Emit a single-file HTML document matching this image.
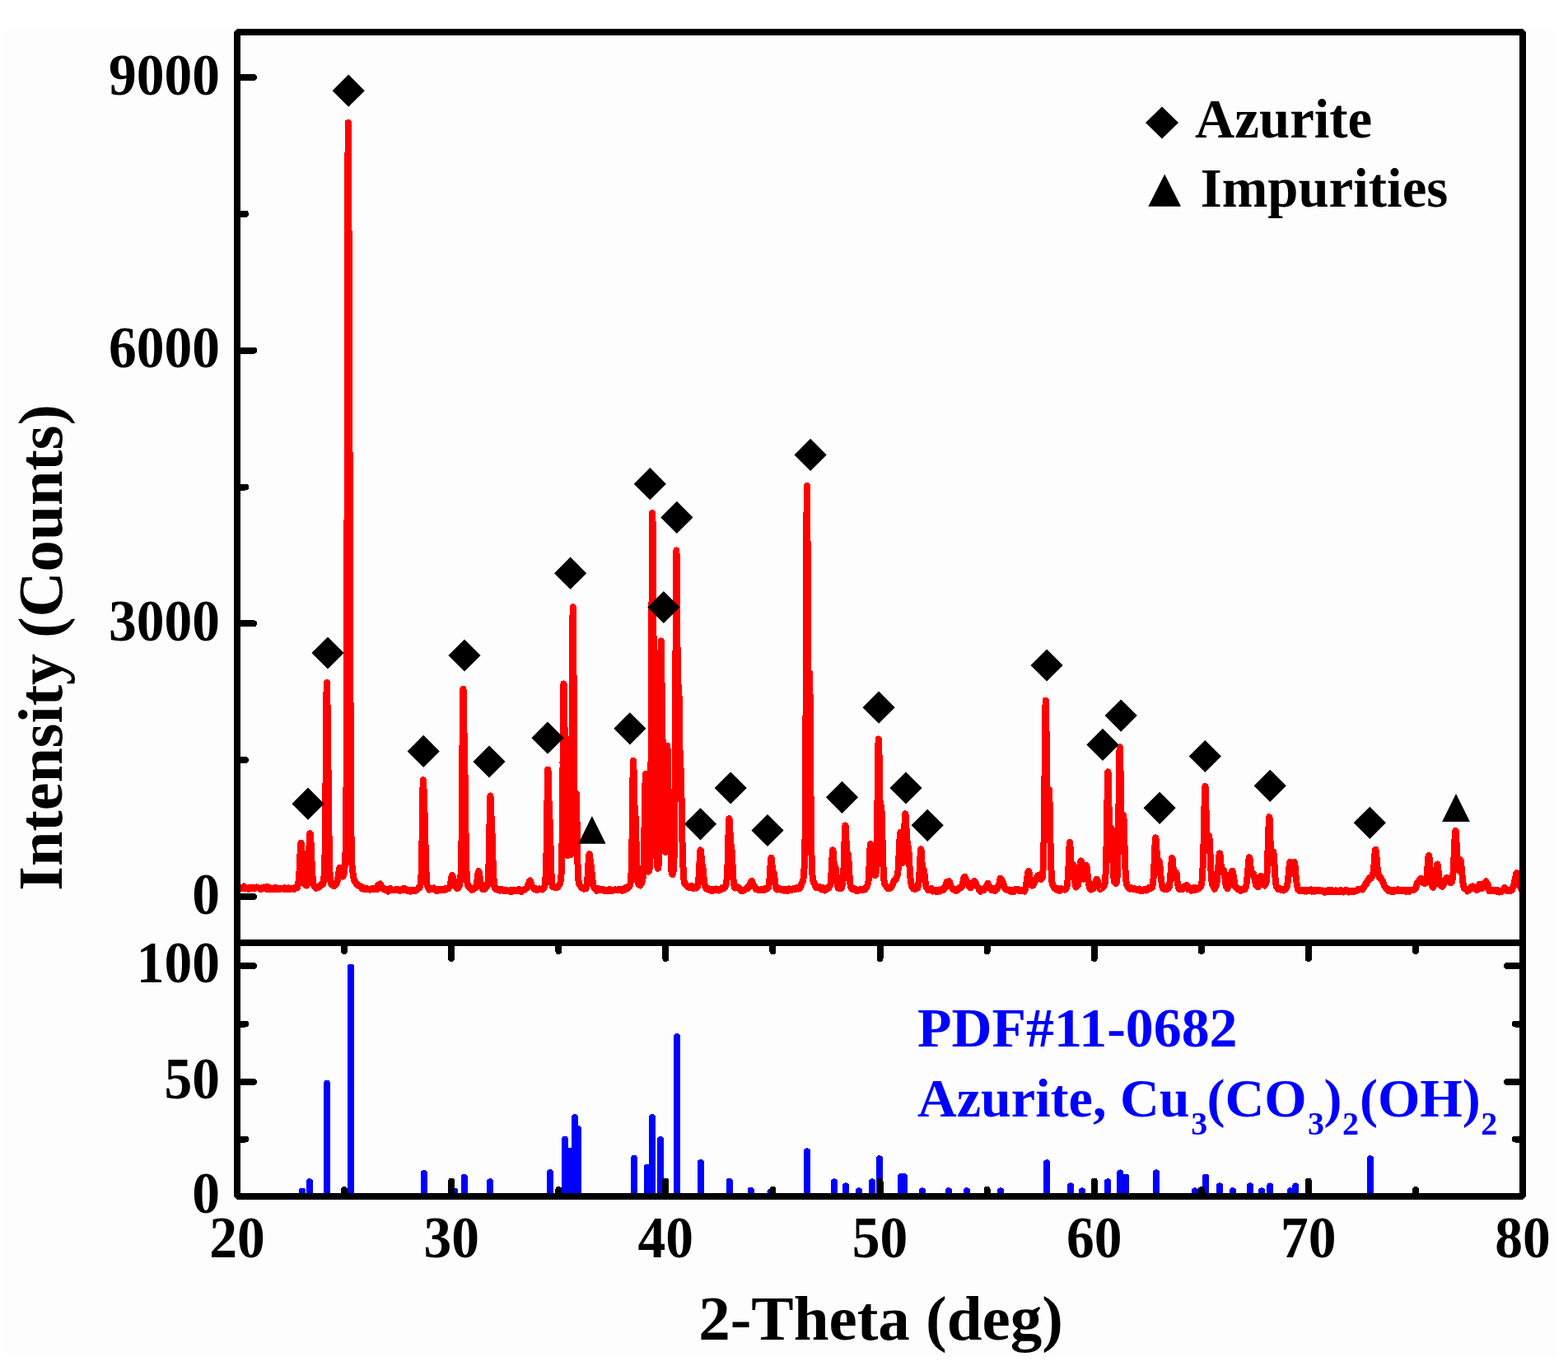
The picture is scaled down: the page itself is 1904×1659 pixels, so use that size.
<!DOCTYPE html>
<html><head><meta charset="utf-8"><title>XRD pattern</title>
<style>
html,body{margin:0;padding:0;background:#fff;}
svg{display:block;}
text{font-family:"Liberation Serif","Times New Roman",serif;font-weight:bold;}
</style></head>
<body>
<svg width="1904" height="1659" viewBox="0 0 1904 1659">
<rect width="1904" height="1659" fill="#fff"/>
<rect x="2" y="35" width="1887" height="1612" fill="#fdfdfd"/>
<path d="M288.0 1078.3 288.5 1078.3 289.0 1077.6 289.6 1077.6 290.1 1078.3 290.6 1079.0 291.1 1079.6 291.6 1079.2 292.2 1079.2 292.7 1078.8 293.2 1077.9 293.7 1078.1 294.2 1078.3 294.8 1079.3 295.3 1078.1 295.8 1077.1 296.3 1076.4 296.9 1077.0 297.4 1078.0 297.9 1078.4 298.4 1078.8 298.9 1078.4 299.4 1078.6 300.0 1078.5 300.5 1078.5 301.0 1079.2 301.5 1079.3 302.1 1080.2 302.6 1079.1 303.1 1078.5 303.6 1077.8 304.1 1078.0 304.6 1078.7 305.2 1079.0 305.7 1078.8 306.2 1078.1 306.7 1077.7 307.2 1078.5 307.8 1078.6 308.3 1078.9 308.8 1078.6 309.3 1078.3 309.9 1078.2 310.4 1078.6 310.9 1078.4 311.4 1078.2 311.9 1077.6 312.5 1078.1 313.0 1078.5 313.5 1078.6 314.0 1078.3 314.5 1078.4 315.1 1078.8 315.6 1079.9 316.1 1080.2 316.6 1080.1 317.1 1079.7 317.7 1078.4 318.2 1078.5 318.7 1078.2 319.2 1078.6 319.7 1077.7 320.3 1077.6 320.8 1077.5 321.3 1078.7 321.8 1078.3 322.3 1077.8 322.9 1077.4 323.4 1079.0 323.9 1079.9 324.4 1079.0 324.9 1077.1 325.5 1077.0 326.0 1077.6 326.5 1078.2 327.0 1078.5 327.6 1079.4 328.1 1080.0 328.6 1079.7 329.1 1079.4 329.6 1080.0 330.1 1080.2 330.7 1080.3 331.2 1079.8 331.7 1078.8 332.2 1079.1 332.8 1079.3 333.3 1080.3 333.8 1078.8 334.3 1078.1 334.8 1078.2 335.4 1078.3 335.9 1078.5 336.4 1078.6 336.9 1078.8 337.4 1079.6 337.9 1079.4 338.5 1080.0 339.0 1079.4 339.5 1079.4 340.0 1079.6 340.6 1079.9 341.1 1079.3 341.6 1079.1 342.1 1079.1 342.6 1079.4 343.2 1079.2 343.7 1079.1 344.2 1079.8 344.7 1080.0 345.2 1078.9 345.8 1078.2 346.3 1078.3 346.8 1078.8 347.3 1079.5 347.8 1079.1 348.4 1079.8 348.9 1078.6 349.4 1078.7 349.9 1078.4 350.4 1079.5 351.0 1080.2 351.5 1080.1 352.0 1079.6 352.5 1079.2 353.0 1079.3 353.6 1079.1 354.1 1079.2 354.6 1079.1 355.1 1079.2 355.6 1079.3 356.2 1079.3 356.7 1080.1 357.2 1079.9 357.7 1079.3 358.2 1078.1 358.8 1077.8 359.3 1078.2 359.8 1078.0 360.3 1077.9 360.9 1077.9 361.4 1076.1 361.9 1074.1 362.4 1070.8 362.9 1067.3 363.4 1060.1 364.0 1049.3 364.2 1044.1 364.4 1038.3 364.5 1037.4 364.7 1032.9 364.9 1028.4 365.0 1027.5 365.2 1025.3 365.4 1023.9 365.5 1023.8 365.7 1024.2 365.9 1025.9 366.1 1026.9 366.2 1028.6 366.6 1034.0 367.1 1043.7 367.6 1053.0 368.1 1061.3 368.6 1067.7 369.2 1070.4 369.7 1072.4 370.2 1074.0 370.7 1075.1 371.2 1075.4 371.8 1075.2 372.3 1075.5 372.8 1074.9 373.3 1070.9 373.9 1065.2 374.4 1056.1 374.9 1044.5 375.2 1036.4 375.4 1030.3 375.4 1029.5 375.7 1022.8 375.9 1017.6 375.9 1017.4 376.2 1013.8 376.4 1012.2 376.5 1012.2 376.7 1012.4 376.9 1014.0 377.0 1014.3 377.2 1017.2 377.5 1022.5 378.0 1032.9 378.5 1045.6 379.1 1056.7 379.6 1065.5 380.1 1070.8 380.6 1073.7 381.1 1075.6 381.7 1076.3 382.2 1077.2 382.7 1077.9 383.2 1078.0 383.7 1078.7 384.3 1077.8 384.8 1078.4 385.3 1077.1 385.8 1077.6 386.3 1077.5 386.9 1077.6 387.4 1077.7 387.9 1076.5 388.4 1075.6 388.9 1075.3 389.5 1075.3 390.0 1075.1 390.5 1073.6 391.0 1074.0 391.6 1074.0 392.1 1074.3 392.6 1071.7 393.1 1069.0 393.6 1063.2 394.1 1053.7 394.7 1031.6 395.2 989.1 395.6 941.1 395.7 926.7 395.9 908.1 396.1 876.2 396.2 861.5 396.4 849.9 396.6 833.4 396.8 829.5 396.9 829.1 397.1 834.9 397.3 842.6 397.4 847.0 397.6 862.2 397.8 874.8 398.3 915.0 398.8 963.5 399.4 1007.0 399.9 1038.3 400.4 1057.3 400.9 1065.5 401.4 1069.9 401.9 1072.1 402.5 1074.5 403.0 1074.8 403.5 1074.4 404.0 1074.7 404.6 1075.2 405.1 1075.8 405.6 1076.2 406.1 1076.0 406.6 1074.9 407.2 1073.9 407.7 1072.9 408.2 1073.8 408.7 1073.1 409.2 1072.2 409.8 1069.6 410.3 1066.8 410.8 1063.3 411.3 1059.6 411.5 1058.2 411.8 1056.5 411.8 1055.9 412.0 1055.1 412.2 1054.2 412.4 1053.9 412.5 1053.6 412.8 1053.8 412.9 1054.1 413.0 1054.5 413.2 1055.6 413.4 1056.4 413.5 1057.0 413.9 1059.3 414.4 1062.2 415.0 1063.3 415.5 1064.5 416.0 1063.6 416.5 1064.4 417.0 1063.0 417.6 1061.6 418.1 1057.6 418.6 1053.3 419.1 1045.6 419.6 1032.6 420.2 1003.1 420.7 929.6 421.2 774.7 421.6 595.4 421.7 526.8 421.9 462.0 422.1 330.5 422.2 261.3 422.4 222.4 422.6 159.8 422.8 149.0 422.9 152.3 423.1 188.6 423.3 232.0 423.4 246.9 423.6 309.3 423.8 359.4 424.3 490.0 424.9 660.8 425.4 827.3 425.9 945.2 426.4 1008.8 426.9 1037.5 427.4 1050.1 428.0 1056.4 428.5 1059.9 429.0 1062.8 429.5 1066.3 430.1 1068.7 430.6 1070.1 431.1 1070.6 431.6 1071.2 432.1 1072.4 432.6 1072.9 433.2 1074.4 433.7 1073.9 434.2 1075.0 434.7 1075.0 435.3 1075.5 435.8 1076.0 436.3 1076.4 436.8 1076.5 437.3 1076.0 437.9 1076.5 438.4 1077.5 438.9 1078.4 439.4 1078.7 439.9 1079.4 440.5 1079.3 441.0 1079.7 441.5 1079.8 442.0 1079.9 442.5 1078.4 443.1 1078.6 443.6 1079.1 444.1 1080.0 444.6 1079.4 445.1 1079.8 445.7 1079.1 446.2 1079.6 446.7 1079.9 447.2 1080.3 447.7 1080.5 448.3 1080.3 448.8 1080.7 449.3 1080.6 449.8 1080.2 450.4 1079.9 450.9 1079.6 451.4 1079.3 451.9 1080.1 452.4 1080.2 452.9 1080.0 453.5 1079.1 454.0 1078.9 454.5 1079.4 455.0 1079.8 455.6 1079.5 456.1 1078.5 456.6 1079.4 457.1 1080.0 457.6 1080.2 458.1 1077.0 458.7 1076.0 459.2 1075.0 459.7 1076.1 460.0 1075.6 460.2 1075.3 460.2 1075.3 460.5 1074.9 460.8 1074.6 461.0 1074.3 461.2 1074.1 461.3 1074.1 461.5 1073.8 461.8 1073.5 461.8 1073.5 462.0 1074.0 462.3 1074.7 462.8 1075.6 463.4 1077.1 463.9 1078.1 464.4 1079.5 464.9 1079.7 465.4 1079.2 466.0 1078.8 466.5 1079.8 467.0 1080.1 467.5 1079.6 468.0 1080.5 468.6 1081.3 469.1 1081.2 469.6 1079.6 470.1 1080.0 470.6 1081.0 471.2 1082.5 471.7 1082.1 472.2 1081.3 472.7 1080.6 473.2 1079.2 473.8 1079.3 474.3 1079.2 474.8 1080.4 475.3 1080.5 475.8 1080.4 476.4 1080.4 476.9 1081.0 477.4 1081.3 477.9 1081.2 478.4 1080.9 479.0 1081.0 479.5 1080.9 480.0 1080.7 480.5 1080.1 481.1 1080.0 481.6 1080.4 482.1 1080.8 482.6 1080.9 483.1 1081.1 483.6 1080.9 484.2 1080.3 484.7 1080.5 485.2 1081.0 485.7 1081.8 486.2 1081.5 486.8 1081.3 487.3 1080.6 487.8 1079.8 488.3 1079.6 488.9 1079.7 489.4 1080.9 489.9 1080.4 490.4 1079.6 490.9 1078.7 491.4 1080.0 492.0 1081.0 492.5 1080.9 493.0 1079.8 493.5 1080.2 494.1 1081.1 494.6 1081.5 495.1 1081.9 495.6 1082.0 496.1 1081.9 496.7 1081.5 497.2 1082.0 497.7 1082.4 498.2 1082.6 498.7 1081.3 499.3 1080.7 499.8 1080.6 500.3 1080.9 500.8 1081.5 501.3 1081.4 501.9 1081.9 502.4 1081.2 502.9 1082.0 503.4 1082.1 503.9 1082.0 504.5 1080.8 505.0 1081.3 505.5 1081.1 506.0 1081.3 506.5 1080.4 507.1 1080.3 507.6 1079.1 508.1 1078.4 508.6 1078.1 509.1 1078.5 509.7 1078.0 510.2 1076.5 510.7 1073.9 511.2 1068.2 511.8 1056.6 512.3 1034.8 512.8 1002.8 512.8 1002.2 513.0 985.0 513.3 968.9 513.3 968.3 513.5 956.0 513.8 948.5 513.8 948.0 514.0 947.2 514.3 951.1 514.4 952.3 514.5 957.9 514.8 965.8 514.9 968.0 515.4 983.3 515.9 1000.8 516.4 1021.9 517.0 1043.0 517.5 1058.9 518.0 1069.4 518.5 1074.4 519.0 1076.3 519.5 1076.6 520.1 1078.2 520.6 1079.1 521.1 1080.7 521.6 1079.7 522.1 1079.6 522.7 1078.5 523.2 1079.4 523.7 1080.1 524.2 1080.2 524.8 1079.9 525.3 1079.8 525.8 1080.0 526.3 1079.2 526.8 1078.5 527.4 1079.0 527.9 1079.3 528.4 1079.8 528.9 1080.3 529.4 1081.2 530.0 1081.6 530.5 1082.2 531.0 1082.4 531.5 1081.5 532.0 1080.6 532.6 1079.6 533.1 1079.7 533.6 1079.9 534.1 1080.4 534.6 1081.1 535.2 1080.4 535.7 1079.8 536.2 1079.6 536.7 1080.2 537.2 1080.6 537.8 1080.6 538.3 1080.3 538.8 1080.7 539.3 1080.9 539.8 1081.2 540.4 1080.5 540.9 1080.2 541.4 1078.9 541.9 1078.7 542.5 1078.8 543.0 1079.2 543.5 1079.6 544.0 1079.5 544.5 1079.2 545.0 1078.4 545.6 1077.3 546.1 1076.8 546.6 1075.3 547.1 1072.8 547.6 1069.2 548.2 1065.8 548.2 1065.7 548.5 1064.4 548.7 1063.4 548.7 1063.4 549.0 1063.1 549.2 1063.2 549.2 1063.2 549.5 1063.5 549.7 1064.2 549.7 1064.3 550.0 1065.0 550.2 1066.1 550.2 1066.3 550.8 1068.2 551.3 1070.8 551.8 1073.2 552.3 1075.0 552.9 1076.3 553.4 1077.1 553.9 1077.9 554.4 1078.3 554.9 1078.2 555.5 1079.0 556.0 1078.2 556.5 1078.4 557.0 1076.6 557.5 1076.3 558.1 1073.4 558.6 1071.0 559.1 1067.2 559.6 1061.2 560.1 1045.4 560.7 1010.8 561.2 954.6 561.3 939.1 561.5 905.9 561.7 886.6 561.8 874.6 562.0 850.1 562.2 839.7 562.3 836.8 562.5 836.7 562.7 843.9 562.8 847.1 563.0 862.8 563.3 876.8 563.3 879.3 563.8 904.6 564.3 926.8 564.8 960.7 565.3 1000.0 565.9 1033.8 566.4 1055.6 566.9 1067.1 567.4 1072.2 567.9 1074.3 568.5 1075.9 569.0 1076.5 569.5 1076.9 570.0 1077.7 570.5 1078.9 571.1 1078.8 571.6 1079.6 572.1 1080.3 572.6 1080.8 573.1 1080.3 573.7 1079.4 574.2 1080.1 574.7 1079.7 575.2 1080.2 575.8 1079.2 576.3 1079.0 576.8 1078.6 577.3 1078.7 577.8 1077.8 578.4 1075.2 578.9 1072.3 579.4 1068.8 579.9 1065.0 580.3 1062.2 580.4 1061.3 580.5 1060.6 580.8 1059.3 581.0 1058.7 581.0 1058.4 581.3 1058.0 581.5 1058.2 581.5 1058.4 581.8 1059.3 582.0 1060.4 582.0 1060.7 582.3 1062.3 582.5 1063.8 583.0 1068.3 583.5 1071.2 584.1 1074.1 584.6 1075.2 585.1 1077.8 585.6 1079.3 586.1 1080.0 586.7 1078.8 587.2 1077.5 587.7 1078.6 588.2 1079.0 588.8 1079.6 589.3 1078.7 589.8 1078.6 590.3 1077.8 590.8 1077.4 591.4 1075.9 591.9 1075.0 592.4 1072.3 592.9 1066.8 593.4 1053.7 594.0 1031.0 594.3 1011.9 594.5 1001.2 594.5 997.1 594.8 983.3 595.0 974.4 595.0 972.6 595.3 966.9 595.5 966.5 595.5 966.7 595.8 971.3 596.0 978.0 596.0 978.3 596.3 985.9 596.6 993.0 597.1 1003.2 597.6 1014.2 598.1 1030.6 598.6 1048.1 599.2 1062.1 599.7 1071.0 600.2 1075.8 600.7 1078.7 601.2 1079.2 601.8 1079.6 602.3 1080.4 602.8 1080.2 603.3 1080.2 603.9 1079.2 604.4 1080.4 604.9 1081.0 605.4 1080.9 605.9 1081.1 606.5 1081.0 607.0 1081.6 607.5 1080.6 608.0 1080.2 608.5 1079.9 609.0 1080.3 609.6 1080.3 610.1 1080.7 610.6 1080.9 611.1 1081.7 611.6 1081.8 612.2 1082.2 612.7 1082.2 613.2 1081.8 613.7 1081.1 614.2 1080.8 614.8 1081.1 615.3 1081.5 615.8 1081.5 616.3 1081.7 616.9 1081.5 617.4 1081.9 617.9 1082.4 618.4 1082.6 618.9 1082.3 619.5 1081.4 620.0 1082.4 620.5 1082.5 621.0 1083.0 621.5 1081.9 622.1 1081.8 622.6 1081.4 623.1 1080.9 623.6 1081.6 624.1 1082.0 624.7 1081.9 625.2 1081.6 625.7 1081.1 626.2 1082.1 626.7 1082.0 627.3 1081.3 627.8 1081.0 628.3 1081.5 628.8 1081.9 629.3 1081.6 629.9 1080.2 630.4 1079.9 630.9 1080.5 631.4 1081.9 631.9 1082.7 632.5 1082.6 633.0 1082.8 633.5 1082.3 634.0 1081.9 634.5 1081.1 635.1 1081.5 635.6 1081.3 636.1 1080.4 636.6 1080.2 637.1 1080.6 637.7 1080.4 638.2 1079.9 638.7 1079.1 639.2 1079.3 639.8 1078.5 640.3 1077.6 640.8 1075.9 641.3 1074.8 641.8 1073.8 642.4 1072.2 642.5 1071.8 642.8 1071.2 642.9 1070.9 643.0 1070.4 643.2 1069.7 643.4 1069.3 643.5 1069.3 643.8 1069.5 643.9 1069.7 644.0 1069.8 644.2 1070.3 644.4 1070.6 644.5 1071.0 645.0 1073.1 645.5 1074.6 646.0 1075.8 646.5 1076.6 647.0 1077.3 647.5 1078.3 648.1 1078.5 648.6 1079.8 649.1 1079.6 649.6 1079.2 650.2 1079.1 650.7 1079.8 651.2 1080.5 651.7 1080.9 652.2 1080.6 652.8 1080.6 653.3 1080.4 653.8 1079.7 654.3 1079.6 654.8 1079.3 655.4 1080.4 655.9 1080.5 656.4 1080.5 656.9 1079.7 657.4 1079.7 658.0 1080.1 658.5 1079.8 659.0 1080.4 659.5 1079.0 660.0 1078.7 660.6 1077.0 661.1 1076.8 661.6 1074.7 662.1 1070.8 662.6 1064.5 663.2 1051.6 663.7 1027.5 664.2 992.3 664.2 991.5 664.5 973.1 664.7 955.4 664.7 953.5 665.0 941.9 665.2 935.0 665.2 934.6 665.5 935.8 665.7 942.6 665.8 945.3 666.0 952.8 666.2 963.4 666.3 967.0 666.8 982.1 667.3 990.0 667.9 1003.4 668.4 1022.1 668.9 1043.8 669.4 1058.8 669.9 1069.5 670.5 1074.5 671.0 1076.6 671.5 1077.1 672.0 1076.5 672.5 1076.5 673.0 1076.7 673.6 1077.4 674.1 1077.9 674.6 1078.2 675.1 1077.8 675.6 1078.1 676.2 1078.1 676.7 1077.9 677.2 1077.5 677.7 1076.8 678.2 1075.8 678.8 1075.4 679.3 1074.8 679.8 1073.8 680.3 1071.9 680.9 1069.4 681.4 1064.4 681.9 1054.6 682.4 1032.8 682.9 992.8 683.5 932.1 683.5 926.9 683.8 894.4 684.0 866.7 684.0 864.5 684.2 841.7 684.5 830.4 684.8 831.9 685.0 843.9 685.0 845.1 685.2 861.5 685.5 879.9 685.5 882.6 686.1 909.5 686.6 921.7 687.1 939.8 687.6 972.9 688.1 1007.2 688.7 1031.6 689.2 1039.1 689.7 1028.1 690.0 1013.2 690.2 999.5 690.2 997.5 690.5 981.6 690.7 969.4 690.8 969.0 691.0 963.9 691.2 968.6 691.3 969.0 691.5 981.0 691.8 996.8 691.8 998.7 692.0 1012.4 692.3 1027.3 692.8 1038.0 693.3 1026.5 693.9 986.6 694.4 916.1 694.7 862.3 694.9 824.4 695.0 817.3 695.2 776.8 695.4 749.6 695.5 747.9 695.7 737.3 696.0 747.8 696.2 776.5 696.5 816.6 696.5 820.0 696.7 861.1 697.0 911.0 697.5 979.7 698.0 1012.6 698.5 1011.0 698.8 1001.5 699.0 989.0 699.1 987.9 699.3 976.3 699.5 966.9 699.6 965.9 699.8 964.1 700.0 969.5 700.1 971.9 700.3 981.7 700.5 997.7 700.6 1003.2 700.8 1014.5 701.1 1035.4 701.7 1056.8 702.2 1067.4 702.7 1071.0 703.2 1073.6 703.8 1074.0 704.3 1075.3 704.8 1075.3 705.3 1076.4 705.8 1077.5 706.4 1078.2 706.9 1078.4 707.4 1078.5 707.9 1079.3 708.4 1079.6 709.0 1079.6 709.5 1079.4 710.0 1079.5 710.5 1078.6 711.0 1078.9 711.6 1079.3 712.1 1077.9 712.6 1074.5 713.1 1069.9 713.6 1064.3 714.2 1055.6 714.4 1051.0 714.6 1046.4 714.7 1045.9 714.9 1042.3 715.1 1039.1 715.2 1038.7 715.4 1037.4 715.6 1037.1 715.7 1037.2 715.9 1038.1 716.1 1040.0 716.2 1040.8 716.4 1042.2 716.8 1045.4 717.3 1049.0 717.8 1052.1 718.3 1056.4 718.8 1062.6 719.4 1067.8 719.9 1073.2 720.4 1075.9 720.9 1077.4 721.4 1078.0 722.0 1078.8 722.5 1079.2 723.0 1079.6 723.5 1080.2 724.0 1081.1 724.6 1082.0 725.1 1081.4 725.6 1080.8 726.1 1078.9 726.6 1080.2 727.2 1080.1 727.7 1081.3 728.2 1080.7 728.7 1080.4 729.2 1080.7 729.8 1080.4 730.3 1080.3 730.8 1080.2 731.3 1080.8 731.9 1080.8 732.4 1080.9 732.9 1080.5 733.4 1081.6 733.9 1081.4 734.5 1082.0 735.0 1081.6 735.5 1081.8 736.0 1081.0 736.5 1081.5 737.0 1080.7 737.6 1080.8 738.1 1081.3 738.6 1081.9 739.1 1081.9 739.7 1080.5 740.2 1080.0 740.7 1080.1 741.2 1081.1 741.7 1081.7 742.3 1081.8 742.8 1081.3 743.3 1081.7 743.8 1081.3 744.3 1081.0 744.9 1080.8 745.4 1081.0 745.9 1081.2 746.4 1080.5 746.9 1080.3 747.5 1080.7 748.0 1081.1 748.5 1080.6 749.0 1080.5 749.5 1080.4 750.1 1080.5 750.6 1080.6 751.1 1080.4 751.6 1080.6 752.1 1080.6 752.7 1081.3 753.2 1081.1 753.7 1080.9 754.2 1079.9 754.7 1081.2 755.3 1080.7 755.8 1081.7 756.3 1080.2 756.8 1080.8 757.4 1081.1 757.9 1080.2 758.4 1079.5 758.9 1078.6 759.4 1079.6 760.0 1079.3 760.5 1079.9 761.0 1079.8 761.5 1079.0 762.0 1078.1 762.5 1077.0 763.1 1077.8 763.6 1076.6 764.1 1076.8 764.6 1076.0 765.1 1075.0 765.7 1072.0 766.2 1066.1 766.7 1056.5 767.2 1036.7 767.8 1003.3 768.0 983.3 768.2 962.9 768.3 961.3 768.5 944.2 768.8 930.3 768.8 928.7 769.0 923.8 769.2 925.9 769.3 927.6 769.5 934.9 769.8 947.5 769.8 951.8 770.0 960.6 770.4 975.7 770.9 985.5 771.4 988.6 771.9 999.2 772.4 1018.3 773.0 1039.9 773.5 1055.9 774.0 1067.7 774.5 1071.8 775.0 1073.5 775.6 1073.3 776.1 1074.7 776.6 1074.8 777.1 1075.4 777.6 1074.5 778.2 1074.5 778.7 1073.2 779.2 1072.9 779.7 1071.2 780.2 1068.5 780.8 1064.7 781.3 1056.8 781.8 1042.2 782.3 1018.6 782.8 988.6 783.0 978.8 783.2 964.2 783.4 958.3 783.5 951.7 783.8 943.2 783.9 940.8 784.0 940.0 784.2 942.7 784.4 946.9 784.5 950.7 784.8 962.6 784.9 972.1 785.0 976.8 785.5 1003.0 786.0 1027.7 786.5 1044.8 787.0 1054.2 787.5 1058.7 788.0 1057.9 788.6 1054.7 789.1 1046.8 789.6 1028.3 790.1 987.9 790.6 912.8 791.2 801.6 791.2 794.5 791.5 735.3 791.7 683.3 791.7 681.3 792.0 641.4 792.2 623.3 792.2 623.1 792.5 630.0 792.7 657.2 792.7 661.4 793.0 695.6 793.2 735.5 793.2 743.0 793.8 798.5 794.3 812.6 794.8 817.7 795.3 855.7 795.9 918.4 796.4 977.6 796.9 1018.7 797.4 1040.6 797.9 1050.2 798.5 1053.9 799.0 1054.8 799.5 1052.1 800.0 1043.3 800.5 1021.8 801.1 977.2 801.6 908.2 801.7 889.8 802.0 851.2 802.1 829.4 802.2 816.1 802.5 790.1 802.6 780.5 802.7 778.5 803.0 783.2 803.1 796.0 803.2 801.3 803.5 826.6 803.7 848.9 803.7 853.0 804.2 890.6 804.7 902.8 805.2 902.7 805.7 920.1 806.3 958.6 806.8 998.0 807.3 1025.0 807.8 1034.9 808.3 1027.0 808.9 999.5 809.3 965.7 809.4 959.0 809.5 944.6 809.8 925.4 809.9 919.0 810.0 911.5 810.3 905.5 810.4 905.9 810.5 908.6 810.8 919.2 810.9 927.2 811.0 933.9 811.3 949.1 811.5 957.9 812.0 975.5 812.5 977.4 813.0 979.9 813.5 994.9 814.1 1016.8 814.6 1038.3 815.1 1052.0 815.6 1060.0 816.1 1061.9 816.7 1062.0 817.2 1060.4 817.7 1057.6 818.2 1050.5 818.8 1034.8 819.3 1001.5 819.8 938.1 820.3 841.4 820.4 822.3 820.6 768.8 820.8 732.9 820.9 720.2 821.1 684.3 821.4 669.7 821.4 668.4 821.6 675.0 821.9 696.5 821.9 700.3 822.1 735.9 822.4 771.4 822.4 772.8 822.9 827.7 823.4 841.4 824.0 833.2 824.5 842.9 825.0 877.5 825.5 910.5 825.8 921.8 826.0 927.0 826.0 927.4 826.3 930.5 826.5 933.4 826.8 937.9 827.0 945.5 827.1 946.2 827.3 956.1 827.5 969.0 827.6 971.2 827.8 983.2 828.1 1001.0 828.6 1027.2 829.1 1046.0 829.7 1057.0 830.2 1065.3 830.7 1070.7 831.2 1073.0 831.8 1072.9 832.3 1073.2 832.8 1074.0 833.3 1075.6 833.8 1076.0 834.4 1076.3 834.9 1076.6 835.4 1076.7 835.9 1077.6 836.4 1077.2 837.0 1077.6 837.5 1077.8 838.0 1077.6 838.5 1077.1 839.0 1076.0 839.6 1075.8 840.1 1076.4 840.6 1077.5 841.1 1078.2 841.6 1078.8 842.2 1078.9 842.7 1078.5 843.2 1077.9 843.7 1076.8 844.2 1077.0 844.8 1077.5 845.3 1078.5 845.8 1078.3 846.3 1077.5 846.9 1076.9 847.4 1075.3 847.9 1072.5 848.4 1066.7 848.9 1058.3 849.5 1047.9 849.5 1046.9 849.8 1041.7 850.0 1037.8 850.0 1037.3 850.2 1034.0 850.5 1032.4 850.5 1032.4 850.8 1032.5 851.0 1034.0 851.0 1034.0 851.2 1036.4 851.5 1039.3 851.5 1039.7 852.0 1045.5 852.6 1049.6 853.1 1052.0 853.6 1055.0 854.1 1060.0 854.6 1066.3 855.2 1071.8 855.7 1074.4 856.2 1076.0 856.7 1076.9 857.2 1078.9 857.8 1079.6 858.3 1079.3 858.8 1078.7 859.3 1078.4 859.9 1078.6 860.4 1079.5 860.9 1079.6 861.4 1080.1 861.9 1080.5 862.5 1081.4 863.0 1081.6 863.5 1080.4 864.0 1080.0 864.5 1080.7 865.1 1081.3 865.6 1081.7 866.1 1081.0 866.6 1080.9 867.1 1080.3 867.7 1080.4 868.2 1080.8 868.7 1080.2 869.2 1080.0 869.7 1079.5 870.3 1079.9 870.8 1079.8 871.3 1080.0 871.8 1081.2 872.3 1081.6 872.9 1081.4 873.4 1079.7 873.9 1080.3 874.4 1080.1 874.9 1080.7 875.5 1079.3 876.0 1079.1 876.5 1078.5 877.0 1079.0 877.5 1079.1 878.1 1079.4 878.6 1079.3 879.1 1078.5 879.6 1078.8 880.1 1078.0 880.7 1077.0 881.2 1075.4 881.7 1073.9 882.2 1071.4 882.8 1065.9 883.3 1056.6 883.8 1041.8 884.3 1023.1 884.4 1019.7 884.6 1010.7 884.8 1004.9 884.9 1002.9 885.1 997.1 885.4 994.6 885.4 994.2 885.6 994.7 885.9 997.4 885.9 997.9 886.1 1002.8 886.4 1008.2 886.4 1008.4 886.9 1018.7 887.4 1024.8 888.0 1027.8 888.5 1032.0 889.0 1039.2 889.5 1049.5 890.0 1059.0 890.5 1067.9 891.1 1072.5 891.6 1075.7 892.1 1077.9 892.6 1078.6 893.2 1078.5 893.7 1077.2 894.2 1076.8 894.7 1076.7 895.2 1077.7 895.8 1078.6 896.3 1078.8 896.8 1078.0 897.3 1078.7 897.8 1079.2 898.4 1079.8 898.9 1079.7 899.4 1080.8 899.9 1081.9 900.4 1082.3 901.0 1081.7 901.5 1080.9 902.0 1081.3 902.5 1081.9 903.0 1081.7 903.6 1081.0 904.1 1080.5 904.6 1080.6 905.1 1080.1 905.6 1079.3 906.2 1078.9 906.7 1078.3 907.2 1079.2 907.7 1079.4 908.2 1079.0 908.8 1078.3 909.3 1077.4 909.8 1075.8 910.3 1074.6 910.9 1073.0 911.4 1073.4 911.5 1072.7 911.8 1071.5 911.9 1070.9 912.0 1070.7 912.2 1070.4 912.4 1070.2 912.5 1070.1 912.8 1069.8 912.9 1069.7 913.0 1069.9 913.2 1070.7 913.5 1071.3 913.5 1071.4 914.0 1072.5 914.5 1074.4 915.0 1075.1 915.5 1075.8 916.0 1075.8 916.6 1077.1 917.1 1078.0 917.6 1079.3 918.1 1079.9 918.6 1080.4 919.2 1080.1 919.7 1079.8 920.2 1080.2 920.7 1080.9 921.2 1081.2 921.8 1080.6 922.3 1081.0 922.8 1080.7 923.3 1081.2 923.9 1081.0 924.4 1081.1 924.9 1081.2 925.4 1080.1 925.9 1080.7 926.5 1080.4 927.0 1080.1 927.5 1079.9 928.0 1079.4 928.5 1080.7 929.1 1080.0 929.6 1080.2 930.1 1079.6 930.6 1079.7 931.1 1079.7 931.7 1079.1 932.2 1079.1 932.7 1078.4 933.2 1077.4 933.7 1073.5 934.3 1069.7 934.8 1063.0 935.3 1054.8 935.4 1053.1 935.6 1048.9 935.8 1046.4 935.9 1045.4 936.1 1042.9 936.3 1041.9 936.4 1041.8 936.6 1042.1 936.9 1043.4 936.9 1043.7 937.1 1046.1 937.4 1048.6 937.4 1048.8 937.9 1054.0 938.4 1056.7 939.0 1058.9 939.5 1059.4 940.0 1062.7 940.5 1065.9 941.0 1070.1 941.5 1074.0 942.1 1077.1 942.6 1079.8 943.1 1080.5 943.6 1080.3 944.1 1079.0 944.7 1078.5 945.2 1078.6 945.7 1079.1 946.2 1079.7 946.8 1080.3 947.3 1080.6 947.8 1080.4 948.3 1080.2 948.8 1080.5 949.4 1080.8 949.9 1081.3 950.4 1080.9 950.9 1079.9 951.4 1080.1 952.0 1080.4 952.5 1081.6 953.0 1080.2 953.5 1080.0 954.0 1079.5 954.6 1079.6 955.1 1079.5 955.6 1079.8 956.1 1081.0 956.6 1081.9 957.2 1081.1 957.7 1080.0 958.2 1079.4 958.7 1080.3 959.2 1081.0 959.8 1080.1 960.3 1080.0 960.8 1080.2 961.3 1081.0 961.8 1080.4 962.4 1080.1 962.9 1080.1 963.4 1080.0 963.9 1079.0 964.4 1078.7 965.0 1079.0 965.5 1079.8 966.0 1079.9 966.5 1079.3 967.0 1079.1 967.6 1078.4 968.1 1078.7 968.6 1079.3 969.1 1079.1 969.6 1079.5 970.2 1079.2 970.7 1079.3 971.2 1078.1 971.7 1077.7 972.2 1076.7 972.8 1075.6 973.3 1073.4 973.8 1072.5 974.3 1071.8 974.9 1070.7 975.4 1068.2 975.9 1063.9 976.4 1058.0 976.9 1045.7 977.5 1020.9 978.0 967.1 978.5 872.8 978.9 772.2 979.0 743.6 979.1 707.6 979.4 649.3 979.5 624.6 979.6 607.0 979.9 590.0 980.0 593.7 980.1 601.8 980.4 638.0 980.6 671.4 980.6 688.4 980.9 742.0 981.1 779.6 981.6 847.8 982.1 855.4 982.6 828.2 983.2 817.4 983.7 858.3 984.2 926.7 984.7 989.9 985.3 1030.2 985.8 1050.9 986.3 1060.9 986.8 1065.3 987.3 1069.5 987.9 1070.7 988.4 1072.6 988.9 1072.9 989.4 1074.1 989.9 1075.7 990.5 1077.1 991.0 1078.2 991.5 1078.1 992.0 1077.4 992.5 1077.2 993.1 1077.0 993.6 1077.5 994.1 1078.2 994.6 1078.3 995.1 1078.5 995.7 1077.9 996.2 1077.5 996.7 1078.2 997.2 1079.3 997.7 1080.5 998.3 1079.8 998.8 1078.0 999.3 1078.0 999.8 1079.1 1000.4 1080.5 1000.9 1080.9 1001.4 1081.0 1001.9 1081.4 1002.4 1080.7 1003.0 1080.5 1003.5 1080.3 1004.0 1079.7 1004.5 1078.9 1005.0 1077.8 1005.5 1078.3 1006.1 1078.5 1006.6 1078.3 1007.1 1076.8 1007.6 1076.2 1008.1 1075.0 1008.7 1072.8 1009.2 1065.6 1009.7 1056.7 1010.2 1046.5 1010.2 1045.8 1010.5 1041.5 1010.7 1037.1 1010.8 1036.4 1011.0 1033.8 1011.2 1032.3 1011.3 1032.3 1011.5 1032.9 1011.7 1035.1 1011.8 1036.2 1012.0 1038.3 1012.2 1041.9 1012.3 1043.4 1012.8 1050.2 1013.4 1053.6 1013.9 1054.0 1014.4 1053.0 1014.9 1055.4 1015.4 1060.4 1016.0 1067.0 1016.5 1071.6 1017.0 1075.8 1017.5 1078.0 1018.0 1078.7 1018.6 1078.6 1019.1 1079.0 1019.6 1079.0 1020.1 1079.0 1020.6 1078.6 1021.2 1079.2 1021.7 1078.8 1022.2 1076.9 1022.7 1074.4 1023.2 1071.7 1023.8 1067.4 1024.3 1059.7 1024.8 1045.4 1025.3 1028.2 1025.4 1025.4 1025.7 1016.9 1025.8 1011.3 1025.9 1009.7 1026.2 1004.6 1026.4 1002.6 1026.4 1002.4 1026.7 1003.3 1026.9 1006.4 1026.9 1006.7 1027.2 1012.0 1027.4 1018.0 1027.9 1029.6 1028.4 1036.1 1029.0 1037.2 1029.5 1036.3 1030.0 1039.1 1030.5 1046.1 1031.0 1055.6 1031.6 1064.1 1032.1 1070.4 1032.6 1074.6 1033.1 1077.3 1033.7 1078.7 1034.2 1079.1 1034.7 1079.2 1035.2 1079.3 1035.7 1080.1 1036.2 1079.3 1036.8 1079.9 1037.3 1079.3 1037.8 1079.6 1038.3 1080.2 1038.8 1080.1 1039.4 1081.3 1039.9 1080.8 1040.4 1082.1 1040.9 1080.8 1041.5 1081.1 1042.0 1081.1 1042.5 1081.5 1043.0 1080.9 1043.5 1081.3 1044.0 1081.5 1044.6 1081.3 1045.1 1079.8 1045.6 1079.9 1046.1 1080.2 1046.7 1080.6 1047.2 1081.1 1047.7 1080.7 1048.2 1080.8 1048.7 1080.6 1049.3 1080.1 1049.8 1080.3 1050.3 1080.3 1050.8 1079.9 1051.3 1078.6 1051.9 1077.0 1052.4 1076.3 1052.9 1076.4 1053.4 1074.8 1053.9 1073.7 1054.5 1070.1 1055.0 1063.1 1055.5 1052.6 1056.0 1040.3 1056.0 1039.8 1056.2 1034.7 1056.5 1029.9 1056.5 1029.3 1056.8 1026.4 1057.0 1024.9 1057.1 1024.9 1057.2 1025.5 1057.5 1027.9 1057.6 1029.0 1057.8 1031.7 1058.0 1035.9 1058.1 1037.6 1058.6 1045.3 1059.1 1048.8 1059.7 1048.5 1060.2 1046.6 1060.7 1047.9 1061.2 1051.7 1061.8 1057.5 1062.3 1061.1 1062.8 1063.4 1063.3 1062.9 1063.8 1057.3 1064.3 1042.6 1064.9 1017.3 1065.4 981.7 1065.8 949.3 1065.9 940.7 1066.0 930.1 1066.3 913.7 1066.4 907.0 1066.5 902.3 1066.8 897.5 1067.0 898.0 1067.0 899.8 1067.3 908.5 1067.5 917.1 1067.5 921.6 1067.8 936.6 1068.0 948.0 1068.5 972.3 1069.0 982.3 1069.5 981.5 1070.1 979.0 1070.6 985.7 1071.1 1002.0 1071.6 1023.0 1072.2 1043.8 1072.7 1058.1 1073.2 1067.2 1073.7 1070.9 1074.2 1073.8 1074.8 1075.1 1075.3 1075.3 1075.8 1075.5 1076.3 1076.9 1076.8 1077.6 1077.4 1078.7 1077.9 1077.4 1078.4 1077.8 1078.9 1077.6 1079.4 1078.9 1080.0 1078.6 1080.5 1078.7 1081.0 1078.3 1081.5 1078.2 1082.0 1077.8 1082.6 1076.8 1083.1 1076.1 1083.6 1075.1 1084.1 1073.3 1084.6 1072.5 1085.2 1070.8 1085.7 1070.1 1086.2 1068.7 1086.5 1068.5 1086.7 1068.4 1086.8 1068.4 1087.0 1068.2 1087.2 1068.1 1087.2 1068.1 1087.5 1068.2 1087.8 1068.3 1087.8 1068.3 1088.0 1067.7 1088.2 1067.0 1088.3 1067.0 1088.5 1066.6 1088.8 1065.9 1089.3 1064.7 1089.8 1062.6 1090.4 1058.9 1090.9 1050.7 1091.4 1041.3 1091.9 1030.0 1092.3 1022.5 1092.5 1019.7 1092.5 1018.0 1092.8 1014.3 1093.0 1012.5 1093.0 1011.9 1093.3 1011.0 1093.5 1011.5 1093.5 1011.8 1093.8 1014.1 1094.0 1016.9 1094.0 1017.5 1094.3 1021.8 1094.5 1026.1 1095.0 1035.5 1095.6 1044.0 1096.1 1048.2 1096.6 1047.2 1097.1 1039.4 1097.7 1027.1 1098.2 1011.6 1098.3 1007.7 1098.5 1000.6 1098.7 997.0 1098.8 994.6 1099.0 990.4 1099.2 988.9 1099.3 988.5 1099.5 989.0 1099.7 990.7 1099.8 991.6 1100.0 995.9 1100.2 1000.0 1100.3 1001.1 1100.8 1011.2 1101.3 1019.6 1101.8 1024.3 1102.3 1025.9 1102.8 1028.5 1103.4 1033.1 1103.9 1041.4 1104.4 1050.4 1104.9 1060.3 1105.5 1066.4 1106.0 1071.0 1106.5 1073.3 1107.0 1075.6 1107.5 1077.4 1108.1 1077.9 1108.6 1078.9 1109.1 1078.1 1109.6 1077.6 1110.1 1077.9 1110.7 1078.9 1111.2 1080.0 1111.7 1079.5 1112.2 1079.5 1112.7 1078.6 1113.3 1078.8 1113.8 1078.0 1114.3 1078.4 1114.8 1076.8 1115.3 1073.7 1115.9 1068.4 1116.4 1061.6 1116.9 1052.0 1117.2 1045.6 1117.4 1041.0 1117.5 1040.4 1117.7 1035.9 1117.9 1032.9 1118.0 1032.8 1118.2 1031.5 1118.5 1032.2 1118.5 1032.3 1118.7 1034.7 1119.0 1038.3 1119.0 1038.8 1119.2 1042.5 1119.5 1047.5 1120.0 1054.0 1120.5 1057.1 1121.1 1056.3 1121.6 1055.7 1122.1 1057.1 1122.6 1062.4 1123.2 1067.9 1123.7 1072.4 1124.2 1075.6 1124.7 1077.4 1125.2 1078.3 1125.8 1079.0 1126.3 1079.2 1126.8 1080.5 1127.3 1081.0 1127.8 1081.3 1128.3 1079.7 1128.9 1079.6 1129.4 1079.7 1129.9 1080.1 1130.4 1079.7 1131.0 1078.9 1131.5 1079.7 1132.0 1080.2 1132.5 1082.5 1133.0 1082.3 1133.5 1082.2 1134.1 1081.7 1134.6 1081.8 1135.1 1082.0 1135.6 1081.2 1136.2 1080.8 1136.7 1081.4 1137.2 1082.1 1137.7 1083.2 1138.2 1082.3 1138.8 1081.9 1139.3 1080.6 1139.8 1081.2 1140.3 1080.6 1140.8 1081.2 1141.4 1081.3 1141.9 1082.5 1142.4 1081.8 1142.9 1081.7 1143.4 1080.6 1144.0 1080.6 1144.5 1079.3 1145.0 1080.0 1145.5 1080.8 1146.0 1080.7 1146.6 1079.2 1147.1 1077.5 1147.6 1078.0 1148.1 1077.7 1148.6 1076.3 1149.2 1073.0 1149.7 1070.9 1150.2 1070.6 1150.3 1070.7 1150.5 1071.1 1150.7 1071.5 1150.8 1071.4 1151.0 1071.3 1151.2 1071.3 1151.3 1071.2 1151.5 1070.9 1151.8 1070.7 1151.8 1070.6 1152.0 1070.4 1152.3 1070.3 1152.3 1070.3 1152.8 1070.6 1153.3 1072.6 1153.8 1073.7 1154.4 1076.3 1154.9 1076.3 1155.4 1077.1 1155.9 1077.6 1156.5 1078.6 1157.0 1080.1 1157.5 1080.3 1158.0 1080.3 1158.5 1080.4 1159.0 1080.9 1159.6 1080.6 1160.1 1081.2 1160.6 1081.1 1161.1 1082.3 1161.7 1080.6 1162.2 1080.0 1162.7 1079.5 1163.2 1080.8 1163.7 1080.3 1164.2 1079.9 1164.8 1078.3 1165.3 1078.6 1165.8 1078.7 1166.3 1078.3 1166.8 1077.4 1167.4 1076.5 1167.9 1076.8 1168.4 1075.8 1168.9 1073.7 1169.5 1070.5 1170.0 1067.9 1170.5 1066.0 1170.8 1065.5 1171.0 1065.2 1171.0 1065.2 1171.3 1065.0 1171.5 1064.9 1171.5 1064.9 1171.8 1065.3 1172.0 1065.9 1172.1 1066.0 1172.3 1066.2 1172.5 1066.7 1172.6 1066.8 1172.8 1067.1 1173.1 1067.6 1173.6 1069.2 1174.1 1071.4 1174.7 1073.8 1175.2 1074.4 1175.7 1074.5 1176.2 1075.1 1176.7 1076.7 1177.3 1077.7 1177.8 1077.8 1178.3 1077.4 1178.8 1077.5 1179.3 1077.8 1179.9 1077.2 1180.4 1076.7 1180.9 1074.8 1181.4 1073.7 1181.9 1071.4 1182.4 1071.1 1182.5 1071.1 1182.7 1070.7 1182.9 1070.3 1183.0 1070.1 1183.2 1070.2 1183.4 1070.4 1183.5 1070.6 1183.7 1070.7 1183.9 1070.9 1184.0 1071.1 1184.2 1071.2 1184.4 1071.6 1184.5 1071.9 1185.1 1073.4 1185.6 1074.7 1186.1 1076.0 1186.6 1076.5 1187.2 1076.8 1187.7 1077.4 1188.2 1078.3 1188.7 1079.3 1189.2 1081.3 1189.8 1082.0 1190.3 1082.6 1190.8 1080.9 1191.3 1080.4 1191.8 1079.9 1192.3 1080.4 1192.9 1080.2 1193.4 1081.0 1193.9 1080.5 1194.4 1081.2 1195.0 1079.1 1195.5 1078.9 1196.0 1078.0 1196.5 1078.5 1197.0 1078.1 1197.5 1077.4 1198.1 1076.7 1198.6 1074.9 1198.8 1074.5 1199.1 1074.1 1199.1 1074.1 1199.3 1073.4 1199.6 1072.8 1199.6 1072.8 1199.8 1073.3 1200.1 1073.9 1200.2 1074.1 1200.3 1074.4 1200.6 1074.9 1200.7 1075.0 1201.2 1076.6 1201.7 1076.7 1202.2 1077.0 1202.8 1078.6 1203.3 1080.4 1203.8 1081.2 1204.3 1081.3 1204.8 1080.1 1205.4 1079.4 1205.9 1078.8 1206.4 1079.2 1206.9 1079.9 1207.4 1080.2 1208.0 1081.9 1208.5 1081.8 1209.0 1081.5 1209.5 1079.9 1210.0 1079.8 1210.6 1079.6 1211.1 1079.6 1211.6 1078.1 1212.1 1076.6 1212.6 1074.3 1213.2 1073.6 1213.7 1071.4 1214.2 1069.3 1214.6 1067.5 1214.7 1066.9 1214.8 1066.9 1215.1 1067.1 1215.2 1067.2 1215.3 1067.3 1215.6 1067.7 1215.8 1068.0 1215.8 1068.2 1216.1 1069.0 1216.3 1069.6 1216.3 1069.5 1216.6 1069.3 1216.8 1069.2 1217.3 1070.3 1217.8 1071.4 1218.4 1073.3 1218.9 1074.4 1219.4 1076.3 1219.9 1078.2 1220.5 1079.5 1221.0 1080.0 1221.5 1080.0 1222.0 1080.3 1222.5 1080.4 1223.0 1081.1 1223.6 1081.1 1224.1 1081.1 1224.6 1080.9 1225.1 1080.6 1225.7 1081.8 1226.2 1082.1 1226.7 1082.6 1227.2 1082.7 1227.7 1083.1 1228.2 1082.2 1228.8 1081.5 1229.3 1081.2 1229.8 1082.8 1230.3 1083.1 1230.9 1083.1 1231.4 1081.6 1231.9 1080.6 1232.4 1080.4 1232.9 1081.2 1233.5 1081.1 1234.0 1080.8 1234.5 1080.3 1235.0 1080.8 1235.5 1081.1 1236.1 1081.2 1236.6 1080.5 1237.1 1080.9 1237.6 1081.8 1238.1 1082.3 1238.7 1082.1 1239.2 1081.5 1239.7 1081.9 1240.2 1081.5 1240.7 1080.9 1241.3 1080.8 1241.8 1080.9 1242.3 1080.8 1242.8 1081.3 1243.3 1081.6 1243.9 1082.5 1244.4 1082.0 1244.9 1080.6 1245.4 1078.3 1246.0 1075.1 1246.5 1071.7 1247.0 1068.5 1247.5 1064.7 1247.9 1062.1 1248.0 1061.2 1248.2 1060.4 1248.4 1059.1 1248.5 1058.5 1248.7 1058.2 1248.9 1057.9 1249.1 1058.1 1249.2 1058.2 1249.4 1059.1 1249.6 1060.1 1249.7 1060.4 1249.9 1062.2 1250.1 1063.9 1250.6 1067.6 1251.2 1070.6 1251.7 1073.5 1252.2 1075.0 1252.7 1075.7 1253.2 1075.6 1253.8 1075.6 1254.3 1075.2 1254.8 1074.9 1255.3 1073.5 1255.8 1072.3 1256.3 1070.9 1256.9 1070.2 1257.4 1068.3 1257.9 1067.1 1258.4 1066.0 1259.0 1065.8 1259.0 1065.6 1259.2 1065.1 1259.5 1064.6 1259.5 1064.6 1259.8 1064.0 1260.0 1063.5 1260.2 1063.3 1260.5 1063.1 1260.5 1063.1 1260.8 1063.5 1261.0 1063.9 1261.0 1064.0 1261.6 1065.6 1262.1 1066.4 1262.6 1066.6 1263.1 1066.8 1263.6 1067.6 1264.2 1067.9 1264.7 1067.4 1265.2 1066.7 1265.7 1065.7 1266.2 1061.6 1266.8 1052.5 1267.3 1035.4 1267.8 1005.9 1268.3 962.8 1268.8 915.0 1268.8 911.0 1269.0 890.8 1269.3 870.3 1269.4 866.2 1269.5 856.0 1269.8 850.5 1269.9 850.8 1270.0 854.6 1270.3 867.3 1270.4 874.2 1270.5 885.9 1270.8 907.6 1270.9 918.3 1271.4 959.8 1272.0 983.7 1272.5 987.8 1273.0 975.4 1273.5 961.5 1274.0 958.9 1274.6 976.1 1275.1 1002.0 1275.6 1028.6 1276.1 1047.8 1276.7 1061.4 1277.2 1069.2 1277.7 1073.2 1278.2 1075.1 1278.7 1075.2 1279.2 1076.7 1279.8 1077.7 1280.3 1078.7 1280.8 1078.1 1281.3 1078.1 1281.8 1078.9 1282.4 1080.2 1282.9 1080.6 1283.4 1079.4 1283.9 1078.7 1284.5 1079.1 1285.0 1079.5 1285.5 1080.4 1286.0 1080.7 1286.5 1081.7 1287.0 1081.8 1287.6 1080.8 1288.1 1079.9 1288.6 1079.3 1289.1 1079.4 1289.7 1079.9 1290.2 1080.2 1290.7 1080.2 1291.2 1080.3 1291.7 1080.1 1292.3 1080.0 1292.8 1080.6 1293.3 1080.5 1293.8 1080.2 1294.3 1078.9 1294.9 1077.8 1295.4 1077.3 1295.9 1075.3 1296.4 1070.9 1296.9 1063.2 1297.5 1052.6 1298.0 1039.8 1298.0 1039.3 1298.2 1033.4 1298.5 1028.3 1298.8 1024.6 1299.0 1023.3 1299.0 1023.2 1299.2 1024.3 1299.5 1027.5 1299.5 1028.2 1299.8 1032.2 1300.0 1037.6 1300.1 1038.9 1300.6 1049.8 1301.1 1056.5 1301.6 1058.0 1302.1 1056.2 1302.7 1051.9 1303.2 1050.1 1303.7 1051.7 1304.2 1057.4 1304.7 1064.3 1305.3 1070.9 1305.8 1075.1 1306.3 1076.5 1306.8 1077.4 1307.3 1076.7 1307.9 1076.4 1308.4 1075.4 1308.9 1075.3 1309.4 1072.7 1310.0 1068.1 1310.5 1063.7 1311.0 1058.3 1311.5 1052.5 1311.6 1051.5 1311.8 1049.0 1312.0 1047.5 1312.1 1047.0 1312.3 1045.8 1312.5 1045.3 1312.6 1045.3 1312.8 1045.6 1313.1 1046.5 1313.1 1046.7 1313.3 1048.5 1313.6 1050.8 1313.6 1050.9 1314.1 1056.1 1314.6 1061.5 1315.2 1065.3 1315.7 1066.1 1316.2 1067.6 1316.7 1065.5 1317.2 1063.0 1317.8 1058.0 1318.0 1055.8 1318.2 1053.9 1318.3 1053.7 1318.5 1052.3 1318.8 1051.3 1318.8 1051.2 1319.0 1051.0 1319.2 1051.5 1319.3 1051.7 1319.5 1052.6 1319.8 1054.2 1319.8 1054.8 1320.0 1056.2 1320.3 1059.3 1320.9 1064.4 1321.4 1068.8 1321.9 1072.6 1322.4 1075.5 1323.0 1077.7 1323.5 1079.3 1324.0 1079.5 1324.5 1080.5 1325.0 1079.6 1325.6 1080.2 1326.1 1078.8 1326.6 1079.1 1327.1 1078.6 1327.6 1079.0 1328.2 1078.1 1328.7 1077.2 1329.2 1075.9 1329.7 1073.6 1330.2 1071.6 1330.8 1069.7 1330.9 1069.3 1331.2 1068.9 1331.3 1068.7 1331.4 1068.4 1331.7 1067.8 1331.8 1067.6 1331.9 1067.6 1332.2 1067.9 1332.3 1068.2 1332.4 1068.4 1332.7 1069.3 1332.8 1070.2 1332.9 1070.4 1333.4 1072.4 1333.9 1074.2 1334.4 1076.2 1334.9 1078.0 1335.4 1079.5 1336.0 1079.9 1336.5 1079.5 1337.0 1079.0 1337.5 1078.9 1338.0 1078.6 1338.6 1078.3 1339.1 1077.6 1339.6 1077.6 1340.1 1076.9 1340.7 1076.2 1341.2 1074.6 1341.7 1072.6 1342.2 1067.9 1342.7 1058.9 1343.2 1042.3 1343.8 1016.5 1344.3 984.4 1344.4 977.4 1344.7 962.3 1344.8 953.6 1344.9 949.4 1345.2 940.7 1345.3 937.7 1345.4 937.4 1345.7 940.0 1345.8 946.2 1345.9 948.2 1346.2 960.1 1346.4 972.3 1346.4 974.1 1346.9 1001.1 1347.4 1020.9 1347.9 1028.7 1348.5 1024.4 1349.0 1014.5 1349.5 1005.7 1350.0 1007.0 1350.5 1017.9 1351.0 1034.6 1351.6 1049.8 1352.1 1061.6 1352.6 1068.1 1353.1 1070.9 1353.7 1071.9 1354.2 1072.0 1354.7 1071.8 1355.2 1072.9 1355.7 1071.3 1356.3 1069.0 1356.8 1060.8 1357.3 1047.6 1357.8 1024.2 1358.3 990.7 1358.8 956.0 1358.9 951.5 1359.0 937.7 1359.3 922.2 1359.4 918.1 1359.5 911.5 1359.8 907.4 1359.9 907.9 1360.0 910.7 1360.3 920.6 1360.4 927.1 1360.5 935.1 1360.8 952.1 1360.9 961.9 1361.5 995.3 1362.0 1016.3 1362.5 1021.1 1363.0 1013.4 1363.5 999.4 1364.1 990.1 1364.6 994.8 1365.1 1010.2 1365.6 1030.3 1366.1 1047.7 1366.7 1060.5 1367.2 1068.8 1367.7 1071.9 1368.2 1074.6 1368.8 1075.4 1369.3 1077.1 1369.8 1076.9 1370.3 1078.1 1370.8 1078.2 1371.3 1079.2 1371.9 1079.2 1372.4 1079.6 1372.9 1079.2 1373.4 1078.2 1374.0 1078.3 1374.5 1078.6 1375.0 1079.7 1375.5 1079.9 1376.0 1079.5 1376.5 1079.4 1377.1 1079.0 1377.6 1079.5 1378.1 1080.1 1378.6 1080.3 1379.2 1080.5 1379.7 1079.9 1380.2 1080.4 1380.7 1080.5 1381.2 1081.2 1381.8 1081.1 1382.3 1080.5 1382.8 1079.8 1383.3 1079.6 1383.8 1080.7 1384.4 1081.5 1384.9 1081.9 1385.4 1082.2 1385.9 1081.7 1386.4 1081.2 1387.0 1081.1 1387.5 1081.1 1388.0 1081.6 1388.5 1080.5 1389.0 1081.0 1389.6 1080.4 1390.1 1080.2 1390.6 1080.4 1391.1 1080.5 1391.6 1081.4 1392.2 1080.4 1392.7 1080.0 1393.2 1080.6 1393.7 1080.7 1394.2 1079.2 1394.8 1078.0 1395.3 1077.7 1395.8 1079.1 1396.3 1079.1 1396.8 1079.0 1397.4 1078.4 1397.9 1078.7 1398.4 1077.9 1398.9 1078.2 1399.5 1075.9 1400.0 1073.1 1400.5 1067.6 1401.0 1060.4 1401.5 1050.0 1402.0 1037.6 1402.3 1031.4 1402.5 1025.9 1402.6 1025.5 1402.8 1021.5 1403.0 1018.5 1403.1 1018.2 1403.3 1017.4 1403.5 1018.0 1403.6 1018.5 1403.8 1020.5 1404.0 1024.5 1404.1 1026.0 1404.3 1029.2 1404.7 1036.3 1405.2 1045.4 1405.7 1051.6 1406.2 1053.7 1406.7 1050.9 1407.2 1047.4 1407.8 1046.1 1408.3 1049.3 1408.8 1055.5 1409.3 1061.7 1409.8 1067.2 1410.4 1071.1 1410.9 1075.2 1411.4 1077.1 1411.9 1078.9 1412.5 1077.8 1413.0 1079.0 1413.5 1078.3 1414.0 1080.0 1414.5 1080.0 1415.1 1079.8 1415.6 1079.6 1416.1 1079.4 1416.6 1080.2 1417.1 1079.7 1417.7 1078.9 1418.2 1077.5 1418.7 1078.7 1419.2 1078.2 1419.7 1077.4 1420.3 1073.0 1420.8 1069.3 1421.3 1063.3 1421.8 1056.6 1422.2 1050.9 1422.3 1048.9 1422.5 1047.4 1422.7 1044.6 1422.9 1043.3 1423.0 1042.7 1423.2 1041.9 1423.4 1042.2 1423.5 1042.4 1423.7 1044.0 1423.9 1045.8 1424.0 1046.3 1424.2 1049.3 1424.4 1052.0 1424.9 1057.8 1425.5 1061.9 1426.0 1063.6 1426.5 1063.1 1427.0 1062.5 1427.5 1059.4 1428.1 1059.5 1428.6 1061.0 1429.1 1066.2 1429.6 1070.6 1430.2 1074.5 1430.7 1077.1 1431.2 1078.3 1431.7 1079.2 1432.2 1079.9 1432.8 1079.5 1433.3 1079.3 1433.8 1078.6 1434.3 1078.9 1434.8 1079.0 1435.3 1079.5 1435.9 1079.8 1436.4 1078.8 1436.9 1078.1 1437.4 1076.9 1438.0 1076.6 1438.5 1076.3 1438.8 1076.6 1439.0 1076.8 1439.0 1076.8 1439.3 1076.8 1439.5 1076.8 1439.5 1076.8 1439.8 1076.4 1440.0 1076.1 1440.0 1076.1 1440.3 1075.7 1440.5 1075.5 1440.8 1075.3 1441.1 1075.1 1441.6 1076.5 1442.1 1078.4 1442.6 1080.0 1443.2 1079.5 1443.7 1078.5 1444.2 1077.9 1444.7 1079.4 1445.2 1080.2 1445.8 1081.0 1446.3 1081.7 1446.8 1081.3 1447.3 1080.8 1447.8 1080.9 1448.4 1081.4 1448.9 1081.4 1449.4 1079.5 1449.9 1078.6 1450.4 1077.8 1451.0 1078.7 1451.5 1079.3 1452.0 1080.8 1452.5 1080.6 1453.0 1080.2 1453.6 1079.2 1454.1 1080.0 1454.6 1079.3 1455.1 1079.5 1455.6 1078.4 1456.2 1079.1 1456.7 1078.5 1457.2 1078.2 1457.7 1077.6 1458.2 1076.8 1458.8 1074.9 1459.3 1072.0 1459.8 1067.2 1460.3 1059.8 1460.8 1047.5 1461.4 1030.0 1461.9 1007.5 1462.4 983.4 1462.4 982.9 1462.7 972.4 1462.9 963.5 1462.9 962.6 1463.2 957.4 1463.4 955.1 1463.5 955.1 1463.7 956.7 1463.9 961.8 1464.0 963.8 1464.2 969.8 1464.4 979.6 1464.5 983.4 1465.0 1004.5 1465.5 1020.9 1466.0 1028.8 1466.6 1028.7 1467.1 1023.4 1467.6 1017.4 1468.1 1015.1 1468.7 1019.4 1469.2 1029.4 1469.7 1041.6 1470.2 1052.4 1470.7 1061.8 1471.2 1068.4 1471.8 1072.9 1472.3 1074.4 1472.8 1076.1 1473.3 1076.2 1473.8 1077.9 1474.4 1077.8 1474.9 1079.8 1475.4 1078.5 1475.9 1077.8 1476.5 1075.7 1477.0 1074.6 1477.5 1072.0 1478.0 1068.0 1478.5 1063.0 1479.1 1056.1 1479.6 1048.7 1479.9 1044.2 1480.1 1041.7 1480.2 1041.1 1480.4 1038.7 1480.6 1037.2 1480.7 1037.0 1480.9 1036.4 1481.1 1036.7 1481.2 1036.7 1481.4 1037.9 1481.7 1039.9 1481.7 1040.0 1481.9 1042.5 1482.2 1045.6 1482.7 1051.1 1483.2 1055.3 1483.7 1057.6 1484.3 1059.3 1484.8 1057.9 1485.3 1057.4 1485.8 1056.4 1486.3 1058.7 1486.9 1061.5 1487.4 1065.9 1487.9 1070.2 1488.4 1074.2 1488.9 1076.1 1489.5 1077.8 1490.0 1078.2 1490.5 1079.2 1491.0 1078.0 1491.5 1077.4 1492.1 1075.9 1492.6 1074.8 1493.1 1072.1 1493.6 1069.8 1494.2 1066.9 1494.7 1063.9 1495.2 1060.7 1495.2 1060.7 1495.5 1059.5 1495.7 1058.6 1495.7 1058.5 1496.0 1058.0 1496.2 1057.7 1496.2 1057.7 1496.5 1058.0 1496.7 1058.6 1496.8 1058.8 1497.0 1059.6 1497.2 1060.8 1497.3 1061.2 1497.8 1063.7 1498.3 1067.4 1498.8 1070.2 1499.3 1074.2 1499.9 1076.3 1500.4 1077.5 1500.9 1077.6 1501.4 1077.8 1502.0 1078.9 1502.5 1079.5 1503.0 1080.0 1503.5 1080.1 1504.0 1079.9 1504.5 1080.1 1505.1 1079.7 1505.6 1080.9 1506.1 1081.8 1506.6 1081.9 1507.2 1080.4 1507.7 1079.8 1508.2 1079.9 1508.7 1080.7 1509.2 1080.7 1509.8 1080.4 1510.3 1080.6 1510.8 1080.5 1511.3 1080.5 1511.8 1079.4 1512.4 1078.0 1512.9 1077.0 1513.4 1074.7 1513.9 1071.8 1514.4 1066.8 1515.0 1061.1 1515.5 1054.8 1516.0 1048.3 1516.2 1045.6 1516.5 1043.4 1516.5 1043.2 1516.8 1041.9 1517.0 1041.2 1517.0 1041.2 1517.2 1041.5 1517.5 1042.6 1517.6 1043.0 1517.8 1044.5 1518.0 1046.8 1518.1 1047.6 1518.6 1052.9 1519.1 1058.3 1519.6 1060.9 1520.2 1062.2 1520.7 1061.3 1521.2 1061.2 1521.7 1060.6 1522.2 1061.4 1522.8 1064.0 1523.3 1066.8 1523.8 1069.8 1524.3 1071.8 1524.8 1073.8 1525.4 1075.6 1525.9 1075.8 1526.4 1076.5 1526.9 1076.6 1527.5 1077.2 1528.0 1076.0 1528.5 1075.0 1529.0 1072.4 1529.5 1070.5 1530.0 1067.1 1530.3 1066.2 1530.5 1065.5 1530.6 1065.4 1530.8 1064.8 1531.0 1064.3 1531.1 1064.2 1531.3 1064.8 1531.5 1065.6 1531.6 1065.8 1531.8 1066.3 1532.0 1067.1 1532.1 1067.4 1532.3 1067.8 1532.7 1068.8 1533.2 1070.2 1533.7 1072.0 1534.2 1074.0 1534.7 1075.0 1535.2 1075.4 1535.8 1075.6 1536.3 1074.7 1536.8 1073.9 1537.3 1072.8 1537.9 1070.4 1538.4 1063.5 1538.9 1052.1 1539.4 1037.1 1539.9 1020.3 1540.2 1011.7 1540.5 1004.2 1540.5 1003.9 1540.7 997.9 1541.0 993.8 1541.0 993.4 1541.2 992.2 1541.5 993.4 1541.5 993.9 1541.7 997.1 1542.0 1002.9 1542.0 1004.7 1542.2 1009.9 1542.5 1020.4 1543.1 1034.8 1543.6 1044.4 1544.1 1048.2 1544.6 1047.4 1545.1 1042.6 1545.7 1036.8 1546.2 1034.2 1546.7 1037.2 1547.2 1044.2 1547.7 1053.7 1548.3 1062.6 1548.8 1070.0 1549.3 1073.3 1549.8 1076.6 1550.3 1077.1 1550.9 1078.2 1551.4 1078.4 1551.9 1080.1 1552.4 1080.2 1553.0 1079.8 1553.5 1079.4 1554.0 1079.1 1554.5 1079.8 1555.0 1080.1 1555.5 1080.8 1556.1 1080.8 1556.6 1080.9 1557.1 1081.3 1557.6 1081.2 1558.2 1081.5 1558.7 1081.1 1559.2 1080.9 1559.7 1079.8 1560.2 1080.4 1560.8 1079.8 1561.3 1079.9 1561.8 1078.9 1562.3 1078.0 1562.8 1076.8 1563.3 1073.9 1563.9 1070.4 1564.4 1064.9 1564.9 1059.2 1565.4 1053.2 1565.4 1052.8 1565.7 1050.7 1565.9 1048.6 1566.0 1048.2 1566.2 1047.2 1566.4 1046.5 1566.5 1046.5 1566.7 1046.8 1566.9 1047.7 1567.0 1048.3 1567.2 1049.3 1567.4 1051.1 1567.5 1052.1 1568.0 1056.2 1568.6 1059.4 1569.1 1060.9 1569.6 1059.4 1570.1 1055.8 1570.6 1051.3 1570.7 1050.8 1571.0 1049.1 1571.2 1048.0 1571.2 1047.8 1571.5 1047.1 1571.7 1047.0 1571.7 1047.0 1572.0 1047.6 1572.2 1048.9 1572.5 1050.9 1572.7 1053.3 1572.7 1053.6 1573.2 1059.9 1573.8 1065.9 1574.3 1071.0 1574.8 1073.8 1575.3 1076.6 1575.8 1078.7 1576.4 1080.7 1576.9 1080.2 1577.4 1080.4 1577.9 1080.8 1578.4 1082.2 1579.0 1081.3 1579.5 1080.6 1580.0 1080.6 1580.5 1081.6 1581.0 1081.4 1581.6 1080.8 1582.1 1081.1 1582.6 1081.0 1583.1 1082.0 1583.7 1081.7 1584.2 1082.4 1584.7 1081.2 1585.2 1081.0 1585.7 1081.2 1586.2 1081.1 1586.8 1082.4 1587.3 1081.4 1587.8 1081.6 1588.3 1080.7 1588.8 1081.5 1589.4 1082.4 1589.9 1082.3 1590.4 1082.0 1590.9 1081.5 1591.5 1081.5 1592.0 1080.4 1592.5 1081.0 1593.0 1081.3 1593.5 1082.6 1594.0 1081.9 1594.6 1081.9 1595.1 1081.8 1595.6 1082.1 1596.1 1082.5 1596.7 1081.7 1597.2 1081.9 1597.7 1080.9 1598.2 1081.5 1598.7 1082.1 1599.3 1082.1 1599.8 1082.2 1600.3 1081.3 1600.8 1082.2 1601.3 1081.8 1601.9 1081.3 1602.4 1081.1 1602.9 1081.4 1603.4 1082.0 1603.9 1082.3 1604.5 1082.1 1605.0 1082.0 1605.5 1081.6 1606.0 1082.2 1606.5 1082.1 1607.1 1082.5 1607.6 1083.4 1608.1 1083.4 1608.6 1083.8 1609.1 1081.9 1609.7 1082.7 1610.2 1081.7 1610.7 1082.7 1611.2 1081.9 1611.7 1081.8 1612.3 1081.1 1612.8 1081.1 1613.3 1082.0 1613.8 1083.1 1614.3 1083.1 1614.9 1082.3 1615.4 1081.4 1615.9 1081.1 1616.4 1082.1 1617.0 1082.7 1617.5 1083.3 1618.0 1082.3 1618.5 1081.5 1619.0 1082.1 1619.5 1082.6 1620.1 1082.7 1620.6 1082.5 1621.1 1081.7 1621.6 1082.4 1622.2 1081.5 1622.7 1081.8 1623.2 1081.7 1623.7 1082.4 1624.2 1083.0 1624.8 1082.4 1625.3 1082.9 1625.8 1083.1 1626.3 1083.4 1626.8 1083.0 1627.4 1082.0 1627.9 1081.9 1628.4 1081.1 1628.9 1081.5 1629.4 1081.7 1630.0 1082.9 1630.5 1083.3 1631.0 1083.5 1631.5 1082.8 1632.0 1082.3 1632.6 1081.7 1633.1 1082.0 1633.6 1081.2 1634.1 1081.7 1634.6 1080.9 1635.2 1081.6 1635.7 1081.2 1636.2 1081.7 1636.7 1082.7 1637.2 1082.6 1637.8 1083.5 1638.3 1083.3 1638.8 1083.1 1639.3 1082.6 1639.8 1082.7 1640.4 1082.7 1640.9 1082.6 1641.4 1081.7 1641.9 1081.9 1642.5 1081.7 1643.0 1082.0 1643.5 1082.4 1644.0 1083.1 1644.5 1083.1 1645.0 1082.7 1645.6 1082.4 1646.1 1082.2 1646.6 1081.5 1647.1 1081.4 1647.7 1080.9 1648.2 1081.5 1648.7 1080.3 1649.2 1081.1 1649.7 1079.9 1650.0 1080.1 1650.2 1080.4 1650.5 1080.2 1650.8 1080.1 1650.8 1080.0 1651.0 1080.0 1651.2 1080.0 1651.3 1080.0 1651.5 1080.2 1651.8 1080.4 1651.8 1080.4 1652.0 1080.1 1652.3 1079.6 1652.8 1079.4 1653.4 1079.2 1653.9 1079.9 1654.4 1080.4 1654.9 1078.7 1655.5 1077.8 1656.0 1077.1 1656.5 1077.3 1657.0 1076.3 1657.5 1074.6 1658.1 1073.5 1658.6 1073.3 1659.1 1073.8 1659.6 1072.8 1660.1 1070.7 1660.7 1069.3 1661.2 1069.1 1661.7 1069.1 1662.2 1067.7 1662.7 1066.7 1663.3 1066.0 1663.8 1066.7 1664.3 1066.8 1664.8 1066.6 1665.3 1066.1 1665.9 1064.8 1666.4 1064.4 1666.9 1062.2 1667.4 1059.9 1667.9 1055.7 1668.5 1049.9 1668.5 1049.4 1668.8 1046.2 1669.0 1043.0 1669.0 1042.8 1669.2 1039.3 1669.3 1038.7 1669.5 1036.2 1669.5 1035.7 1669.8 1033.9 1669.8 1033.5 1670.0 1032.2 1670.0 1032.1 1670.0 1032.0 1670.2 1031.5 1670.3 1031.5 1670.5 1031.8 1670.5 1032.0 1670.5 1032.0 1670.8 1033.6 1671.0 1036.0 1671.1 1036.2 1671.3 1039.0 1671.6 1042.7 1672.1 1048.9 1672.6 1054.5 1673.2 1058.4 1673.7 1061.8 1674.2 1063.8 1674.7 1065.6 1675.2 1066.2 1675.8 1066.1 1676.3 1065.6 1676.8 1066.5 1677.3 1067.9 1677.8 1068.5 1678.3 1069.8 1678.9 1070.0 1679.4 1071.8 1679.9 1072.6 1680.4 1074.3 1681.0 1076.0 1681.5 1076.8 1682.0 1077.5 1682.5 1077.7 1683.0 1079.1 1683.5 1079.4 1684.1 1079.9 1684.6 1079.7 1685.1 1081.0 1685.6 1081.9 1686.2 1082.5 1686.7 1082.3 1687.2 1081.9 1687.7 1080.6 1688.2 1081.0 1688.8 1081.2 1689.3 1082.6 1689.8 1082.1 1690.3 1081.6 1690.8 1081.4 1691.4 1082.1 1691.9 1082.4 1692.4 1083.1 1692.9 1081.4 1693.4 1081.2 1694.0 1080.8 1694.5 1081.9 1695.0 1081.4 1695.5 1080.9 1696.0 1081.5 1696.6 1081.7 1697.1 1081.5 1697.6 1080.4 1698.1 1080.8 1698.6 1081.5 1699.2 1082.2 1699.7 1081.6 1700.2 1081.9 1700.7 1081.4 1701.2 1082.0 1701.8 1082.1 1702.3 1082.4 1702.8 1082.1 1703.3 1081.0 1703.8 1080.7 1704.4 1080.8 1704.9 1080.9 1705.4 1081.6 1705.9 1082.2 1706.5 1081.8 1707.0 1082.6 1707.5 1081.9 1708.0 1082.6 1708.5 1081.3 1709.0 1082.1 1709.6 1081.9 1710.1 1082.0 1710.6 1082.6 1711.1 1082.8 1711.7 1082.0 1712.2 1081.2 1712.7 1080.7 1713.2 1081.0 1713.7 1080.9 1714.2 1081.3 1714.8 1081.2 1715.3 1081.4 1715.8 1081.0 1716.3 1080.3 1716.8 1080.1 1717.4 1079.6 1717.9 1080.3 1718.4 1079.1 1718.9 1078.8 1719.5 1077.6 1720.0 1075.8 1720.5 1073.8 1721.0 1072.0 1721.5 1072.6 1722.1 1071.1 1722.6 1070.7 1723.1 1069.4 1723.6 1069.4 1724.0 1068.7 1724.1 1068.4 1724.2 1068.2 1724.5 1067.6 1724.7 1067.2 1724.8 1067.2 1725.0 1067.0 1725.2 1066.9 1725.2 1066.9 1725.5 1066.9 1725.7 1066.9 1725.8 1067.0 1726.0 1067.5 1726.2 1067.9 1726.7 1069.1 1727.3 1069.9 1727.8 1070.5 1728.3 1071.1 1728.8 1072.3 1729.3 1072.8 1729.9 1073.0 1730.4 1072.8 1730.9 1072.8 1731.4 1071.8 1731.9 1068.0 1732.5 1064.0 1733.0 1058.5 1733.5 1052.7 1734.0 1045.8 1734.0 1045.6 1734.2 1043.0 1734.5 1040.8 1734.5 1040.5 1734.8 1039.4 1735.0 1039.0 1735.1 1039.0 1735.2 1039.5 1735.5 1041.1 1735.6 1041.9 1735.8 1043.5 1736.0 1046.6 1736.1 1048.1 1736.6 1055.6 1737.2 1062.2 1737.7 1067.8 1738.2 1071.5 1738.7 1074.5 1739.2 1076.6 1739.8 1077.4 1740.3 1077.7 1740.8 1076.6 1741.3 1075.6 1741.8 1074.9 1742.3 1072.7 1742.9 1069.9 1743.4 1064.8 1743.9 1059.1 1744.3 1055.1 1744.4 1053.9 1744.5 1052.9 1744.8 1051.1 1745.0 1050.3 1745.0 1050.0 1745.3 1049.6 1745.5 1049.8 1745.5 1050.0 1745.8 1051.0 1746.0 1052.2 1746.0 1052.7 1746.3 1054.8 1746.5 1056.9 1747.0 1062.6 1747.5 1067.4 1748.1 1071.6 1748.6 1073.9 1749.1 1075.4 1749.6 1075.7 1750.2 1075.9 1750.7 1076.6 1751.2 1076.8 1751.7 1076.5 1752.2 1075.6 1752.8 1074.3 1753.3 1073.3 1753.8 1071.7 1754.3 1070.1 1754.8 1068.6 1755.4 1067.4 1755.9 1066.9 1756.0 1066.7 1756.2 1066.3 1756.4 1066.1 1756.5 1066.1 1756.8 1066.1 1756.9 1066.2 1757.0 1066.2 1757.2 1066.3 1757.4 1066.5 1757.5 1066.5 1757.8 1066.7 1758.0 1066.8 1758.0 1066.9 1758.5 1067.6 1759.0 1067.7 1759.5 1069.0 1760.0 1069.8 1760.6 1071.7 1761.1 1071.1 1761.6 1071.7 1762.1 1071.8 1762.6 1071.7 1763.2 1070.6 1763.7 1067.9 1764.2 1064.4 1764.7 1056.9 1765.2 1047.2 1765.8 1035.6 1766.3 1023.7 1766.4 1021.3 1766.7 1016.4 1766.8 1013.7 1766.9 1012.4 1767.2 1009.8 1767.3 1009.0 1767.4 1008.9 1767.7 1009.7 1767.8 1011.6 1767.9 1012.2 1768.2 1015.9 1768.4 1019.9 1768.4 1020.5 1768.9 1031.2 1769.4 1042.1 1769.9 1051.2 1770.5 1056.2 1771.0 1057.2 1771.5 1054.7 1772.0 1051.0 1772.5 1046.8 1773.0 1044.2 1773.6 1044.4 1774.1 1048.1 1774.6 1052.7 1775.1 1058.9 1775.7 1065.0 1776.2 1070.8 1776.7 1073.9 1777.2 1076.7 1777.7 1078.0 1778.2 1079.0 1778.8 1078.7 1779.3 1079.3 1779.8 1079.3 1780.3 1079.4 1780.9 1080.3 1781.4 1081.4 1781.9 1082.4 1782.4 1082.1 1782.9 1081.7 1783.5 1080.2 1784.0 1079.9 1784.5 1079.8 1785.0 1080.2 1785.5 1078.2 1786.1 1077.5 1786.6 1077.2 1786.8 1077.2 1787.0 1077.3 1787.1 1077.3 1787.3 1076.9 1787.5 1076.6 1787.6 1076.5 1787.8 1076.4 1788.0 1076.3 1788.1 1076.3 1788.3 1076.4 1788.5 1076.7 1788.7 1076.9 1788.8 1077.1 1789.2 1077.9 1789.7 1078.3 1790.2 1079.3 1790.7 1079.4 1791.3 1079.2 1791.8 1078.6 1792.3 1080.0 1792.8 1080.6 1793.3 1081.2 1793.9 1079.7 1794.4 1079.6 1794.9 1078.4 1795.4 1076.8 1795.6 1076.3 1795.8 1075.6 1796.0 1075.4 1796.1 1074.9 1796.3 1074.2 1796.5 1073.9 1796.6 1074.0 1796.8 1074.1 1797.0 1074.2 1797.1 1074.3 1797.3 1074.7 1797.5 1075.0 1797.6 1075.1 1798.0 1075.6 1798.5 1076.4 1799.1 1077.0 1799.6 1078.9 1800.1 1078.5 1800.6 1077.5 1801.2 1075.3 1801.7 1074.2 1802.2 1073.3 1802.7 1073.6 1803.2 1072.1 1803.3 1072.0 1803.5 1071.7 1803.8 1071.5 1803.8 1071.3 1804.0 1070.7 1804.3 1070.3 1804.3 1070.3 1804.5 1070.6 1804.8 1071.0 1804.8 1071.0 1805.0 1071.6 1805.3 1072.4 1805.3 1072.4 1805.8 1072.6 1806.3 1074.4 1806.9 1075.1 1807.4 1078.6 1807.9 1080.6 1808.4 1082.4 1809.0 1082.2 1809.5 1082.3 1810.0 1082.2 1810.5 1082.5 1811.0 1082.4 1811.6 1081.8 1812.1 1081.4 1812.6 1080.8 1813.1 1081.8 1813.6 1081.8 1814.2 1081.4 1814.7 1080.7 1815.2 1080.9 1815.7 1081.9 1816.2 1082.6 1816.8 1082.6 1817.3 1082.4 1817.8 1081.3 1818.3 1081.3 1818.8 1081.3 1819.4 1081.7 1819.9 1083.1 1820.4 1083.5 1820.9 1082.9 1821.4 1082.4 1822.0 1082.5 1822.5 1083.2 1823.0 1082.5 1823.5 1082.3 1824.0 1081.9 1824.6 1081.9 1825.1 1081.5 1825.6 1081.3 1826.1 1080.0 1826.5 1079.3 1826.7 1079.1 1826.8 1078.9 1827.0 1078.3 1827.2 1077.9 1827.2 1078.0 1827.5 1078.3 1827.7 1078.6 1827.8 1078.6 1828.0 1078.9 1828.2 1079.1 1828.2 1079.2 1828.5 1079.4 1828.7 1079.6 1829.2 1079.9 1829.8 1081.1 1830.3 1082.3 1830.8 1081.9 1831.3 1080.9 1831.8 1080.9 1832.4 1081.5 1832.9 1081.7 1833.4 1082.0 1833.9 1082.1 1834.5 1081.4 1835.0 1081.0 1835.5 1080.6 1836.0 1080.8 1836.5 1079.8 1837.0 1078.4 1837.6 1076.7 1838.1 1075.3 1838.6 1073.4 1839.1 1070.4 1839.7 1068.3 1840.2 1065.5 1840.7 1063.2 1840.8 1062.6 1841.0 1061.6 1841.2 1061.0 1841.3 1060.8 1841.5 1060.3 1841.7 1060.2 1841.8 1060.2 1842.0 1060.4 1842.3 1060.8 1842.3 1060.9 1842.5 1061.6 1842.8 1062.4 1842.8 1062.5 1843.3 1065.7 1843.8 1068.3 1844.3 1071.6 1844.9 1074.0 1845.4 1076.4 1845.9 1077.1 1846.4 1077.6 1846.9 1078.4 1847.5 1080.5 1848.0 1081.3 1848.5 1081.8" fill="none" stroke="#ff0000" stroke-width="8.0" stroke-linejoin="round" stroke-linecap="round" shape-rendering="crispEdges"/>
<path d="M367.1 1453V1446.5 M375.9 1453V1435.3 M397.0 1453V1315.7 M426.0 1453V1174.6 M514.8 1453V1425.0 M552.1 1453V1446.5 M563.7 1453V1429.7 M595.1 1453V1435.3 M668.0 1453V1423.9 M686.0 1453V1383.7 M692.0 1453V1397.9 M698.0 1453V1356.9 M701.8 1453V1370.8 M770.0 1453V1406.8 M785.7 1453V1417.5 M792.0 1453V1356.9 M802.0 1453V1384.0 M822.0 1453V1258.9 M850.8 1453V1412.0 M885.8 1453V1434.9 M911.8 1453V1445.9 M935.5 1453V1447.5 M980.0 1453V1398.4 M1013.0 1453V1435.3 M1027.0 1453V1440.4 M1043.0 1453V1446.3 M1059.0 1453V1435.3 M1067.9 1453V1407.3 M1094.0 1453V1429.1 M1097.8 1453V1429.1 M1120.0 1453V1446.3 M1151.9 1453V1446.3 M1173.8 1453V1446.3 M1215.0 1453V1446.3 M1271.2 1453V1412.3 M1300.1 1453V1440.4 M1314.0 1453V1446.3 M1345.1 1453V1435.3 M1360.3 1453V1424.4 M1367.3 1453V1429.5 M1404.0 1453V1424.4 M1451.0 1453V1446.3 M1464.0 1453V1429.5 M1481.0 1453V1440.4 M1496.9 1453V1446.3 M1517.9 1453V1440.4 M1532.0 1453V1446.3 M1542.3 1453V1440.4 M1566.9 1453V1446.3 M1573.3 1453V1440.4 M1663.9 1453V1407.3" fill="none" stroke="#0000ff" stroke-width="8" stroke-linecap="round" shape-rendering="crispEdges"/>
<path d="M374.0 956.6l19.6 19.6l-19.6 19.6l-19.6 -19.6z M398.0 773.4l19.6 19.6l-19.6 19.6l-19.6 -19.6z M423.2 90.6l19.6 19.6l-19.6 19.6l-19.6 -19.6z M514.2 892.8l19.6 19.6l-19.6 19.6l-19.6 -19.6z M564.0 776.4l19.6 19.6l-19.6 19.6l-19.6 -19.6z M594.0 905.4l19.6 19.6l-19.6 19.6l-19.6 -19.6z M665.0 876.6l19.6 19.6l-19.6 19.6l-19.6 -19.6z M692.6 676.6l19.6 19.6l-19.6 19.6l-19.6 -19.6z M764.9 865.2l19.6 19.6l-19.6 19.6l-19.6 -19.6z M789.3 568.1l19.6 19.6l-19.6 19.6l-19.6 -19.6z M805.9 717.9l19.6 19.6l-19.6 19.6l-19.6 -19.6z M821.9 608.8l19.6 19.6l-19.6 19.6l-19.6 -19.6z M850.5 981.2l19.6 19.6l-19.6 19.6l-19.6 -19.6z M887.2 937.4l19.6 19.6l-19.6 19.6l-19.6 -19.6z M932.0 988.9l19.6 19.6l-19.6 19.6l-19.6 -19.6z M984.1 532.8l19.6 19.6l-19.6 19.6l-19.6 -19.6z M1022.5 948.7l19.6 19.6l-19.6 19.6l-19.6 -19.6z M1067.1 839.6l19.6 19.6l-19.6 19.6l-19.6 -19.6z M1100.0 937.4l19.6 19.6l-19.6 19.6l-19.6 -19.6z M1126.2 982.7l19.6 19.6l-19.6 19.6l-19.6 -19.6z M1271.1 788.4l19.6 19.6l-19.6 19.6l-19.6 -19.6z M1339.0 884.8l19.6 19.6l-19.6 19.6l-19.6 -19.6z M1361.2 849.5l19.6 19.6l-19.6 19.6l-19.6 -19.6z M1408.1 961.7l19.6 19.6l-19.6 19.6l-19.6 -19.6z M1463.3 898.9l19.6 19.6l-19.6 19.6l-19.6 -19.6z M1542.2 934.7l19.6 19.6l-19.6 19.6l-19.6 -19.6z M1663.3 979.7l19.6 19.6l-19.6 19.6l-19.6 -19.6z" fill="#000"/>
<path d="M718.9 991L735.6 1024.8H702.2Z M1768 964.1L1784.9 997.9H1751.1Z" fill="#000"/>
<g fill="none" stroke="#000" stroke-width="8">
<path d="M288 39H1849V1453H288Z" stroke-linejoin="bevel"/>
<path d="M288 1145H1849"/>
<path d="M292 1088.9H308 M292 757.3H308 M292 425.6H308 M292 94.0H308 M292 923.1H298 M292 591.5H298 M292 259.8H298 M292 1314.0H308 M1845 1314.0H1830 M292 1173.0H308 M1845 1173.0H1830 M292 1383.5H298 M1845 1383.5H1840 M292 1243.5H298 M1845 1243.5H1840 M548.2 1149V1164 M548.2 1449V1434.5 M808.3 1149V1164 M808.3 1449V1434.5 M1068.5 1149V1164 M1068.5 1449V1434.5 M1328.7 1149V1164 M1328.7 1449V1434.5 M1588.8 1149V1164 M1588.8 1449V1434.5 M418.1 1149V1155 M418.1 1449V1445 M678.3 1149V1155 M678.3 1449V1445 M938.4 1149V1155 M938.4 1449V1445 M1198.6 1149V1155 M1198.6 1449V1445 M1458.8 1149V1155 M1458.8 1449V1445 M1718.9 1149V1155 M1718.9 1449V1445" stroke-linecap="round" shape-rendering="crispEdges"/>
</g>
<g font-size="67.5" text-anchor="end"><text transform="translate(267 1109.6) scale(1 1.05)">0</text><text transform="translate(267 778.0) scale(1 1.05)">3000</text><text transform="translate(267 446.3) scale(1 1.05)">6000</text><text transform="translate(267 114.7) scale(1 1.05)">9000</text><text transform="translate(267 1473.2) scale(1 1.05)">0</text><text transform="translate(267 1334.2) scale(1 1.05)">50</text><text transform="translate(267 1193.2) scale(1 1.05)">100</text></g>
<g font-size="67.5" text-anchor="middle"><text transform="translate(288.0 1527.3) scale(1 1.05)">20</text><text transform="translate(548.2 1527.3) scale(1 1.05)">30</text><text transform="translate(808.3 1527.3) scale(1 1.05)">40</text><text transform="translate(1068.5 1527.3) scale(1 1.05)">50</text><text transform="translate(1328.7 1527.3) scale(1 1.05)">60</text><text transform="translate(1588.8 1527.3) scale(1 1.05)">70</text><text transform="translate(1849.0 1527.3) scale(1 1.05)">80</text></g>
<text x="1069.5" y="1627.3" font-size="77" text-anchor="middle">2-Theta (deg)</text>
<text transform="translate(74.9 786.5) rotate(-90)" font-size="76.2" text-anchor="middle">Intensity (Counts)</text>
<path d="M1411 129.5l20 19.5l-20 19.5l-20-19.5z" fill="#000"/>
<text x="1451.1" y="167.2" font-size="66.8">Azurite</text>
<path d="M1414.2 211.5L1434 250.7H1394.4Z" fill="#000"/>
<text x="1457.7" y="250.7" font-size="66.8">Impurities</text>
<g fill="#0000ff">
<text x="1114.1" y="1271.3" font-size="67.9">PDF#11-0682</text>
<text y="1355.8" font-size="66.1"><tspan x="1114.05">Azurite, Cu</tspan><tspan x="1446.3" y="1377.8" font-size="40">3</tspan><tspan x="1465.6" y="1355.8">(CO</tspan><tspan x="1588" y="1377.8" font-size="40">3</tspan><tspan x="1607.5" y="1355.8">)</tspan><tspan x="1630.1" y="1377.8" font-size="40">2</tspan><tspan x="1650.9" y="1355.8">(OH)</tspan><tspan x="1798.3" y="1377.8" font-size="40">2</tspan></text>
</g>
</svg>
</body></html>
